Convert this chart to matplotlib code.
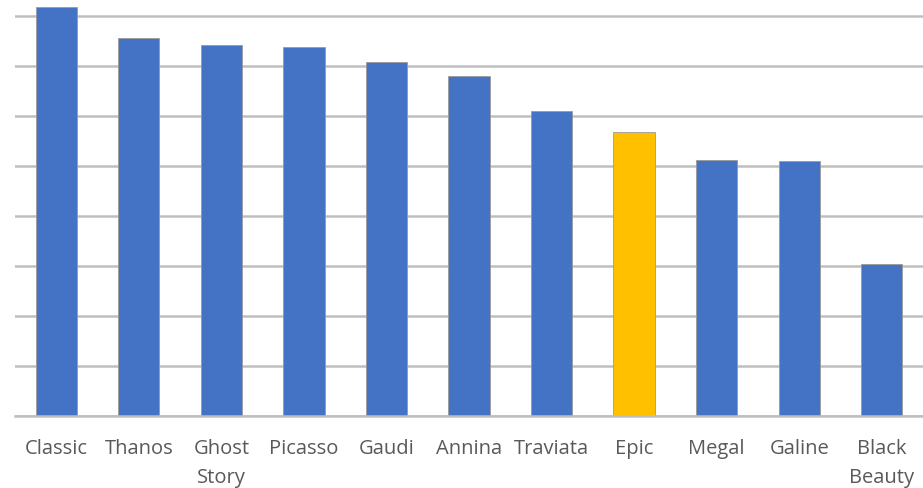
import matplotlib
matplotlib.use("Agg")
import matplotlib.pyplot as plt

categories = ["Classic", "Thanos", "Ghost\nStory", "Picasso", "Gaudi", "Annina",
              "Traviata", "Epic", "Megal", "Galine", "Black\nBeauty"]
values = [8.18, 7.56, 7.42, 7.38, 7.08, 6.80, 6.10, 5.67, 5.12, 5.09, 3.04]
highlight = "Epic"

blue = "#4472C4"
gold = "#FFC000"
colors = [gold if c == highlight else blue for c in categories]

fig = plt.figure(figsize=(9.23, 4.89), dpi=100)
ax = fig.add_axes([15/923, 72.5/489, 908/923, 416.5/489])

x = list(range(len(categories)))
ax.bar(x, values, width=0.5, color=colors, edgecolor="#9a9a9a", linewidth=0.6, zorder=3)

ax.set_xlim(-0.5, len(categories) - 0.5)
ax.set_ylim(0, 8.33)
ax.set_yticks(range(0, 9))
ax.yaxis.grid(True, color="#BFBFBF", linewidth=1.8, zorder=0)
ax.set_yticklabels([])
ax.tick_params(axis="y", length=0)
ax.tick_params(axis="x", length=0, pad=16)
ax.set_xticks(x)
ax.set_xticklabels(categories, fontsize=14.5, color="#595959", family=["Open Sans", "DejaVu Sans"],
                   linespacing=1.62, va="top")
for s in ["top", "right", "left"]:
    ax.spines[s].set_visible(False)
ax.spines["bottom"].set_color("#BFBFBF")
ax.spines["bottom"].set_linewidth(1.8)
ax.spines["bottom"].set_zorder(4)

fig.savefig("out.png", dpi=100)
